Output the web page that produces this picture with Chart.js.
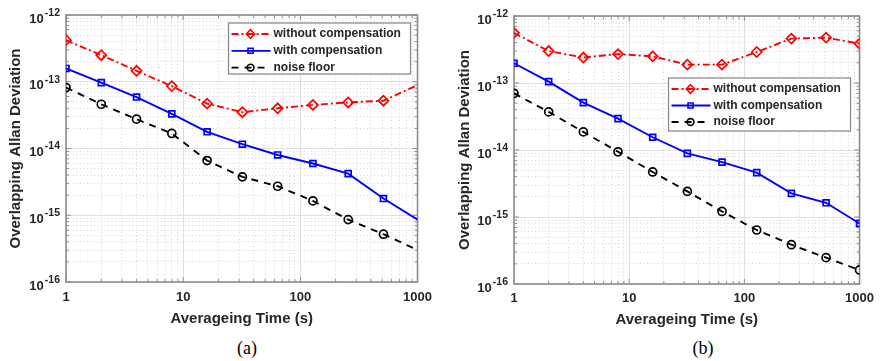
<!DOCTYPE html>
<html>
<head>
<meta charset="utf-8">
<script src="https://cdn.jsdelivr.net/npm/chart.js@4"></script>
<style>
  body { margin: 0; background: #fff; width: 881px; height: 361px; position: relative; overflow: hidden; }
  .panel { position: absolute; top: 0; height: 335px; }
  .cap { position: absolute; top: 338px; font: 18px "Liberation Serif", "Times New Roman", serif; line-height: 20px; color: #000; transform: translateX(-50%); }
</style>
</head>
<body>
<div class="panel" style="left:0;width:440px"><canvas id="chartA"></canvas></div>
<div class="panel" style="left:440px;width:441px"><canvas id="chartB"></canvas></div>
<div class="cap" style="left:247px">(a)</div>
<div class="cap" style="left:703px">(b)</div>
<script>
// Overlapping Allan deviation, with and without compensation, two runs (a) and (b).
// Values.

const TAU = [1, 2, 4, 8, 16, 32, 64, 128, 256, 512, 1000];

const A_WITHOUT = [4.2e-13, 2.5e-13, 1.46e-13, 8.6e-14, 4.7e-14, 3.5e-14, 4.0e-14, 4.5e-14, 4.9e-14, 5.2e-14, 8.9e-14];
const A_WITH    = [1.58e-13, 9.7e-14, 5.9e-14, 3.3e-14, 1.78e-14, 1.16e-14, 8.0e-15, 5.96e-15, 4.2e-15, 1.78e-15, 8.6e-16];
const A_FLOOR   = [8.2e-14, 4.6e-14, 2.75e-14, 1.68e-14, 6.6e-15, 3.76e-15, 2.72e-15, 1.64e-15, 8.6e-16, 5.2e-16, 3.0e-16];

const B_WITHOUT = [5.6e-13, 3.0e-13, 2.4e-13, 2.7e-13, 2.5e-13, 1.88e-13, 1.88e-13, 2.9e-13, 4.6e-13, 4.75e-13, 3.86e-13];
const B_WITH    = [1.97e-13, 1.05e-13, 5.1e-14, 2.94e-14, 1.55e-14, 8.9e-15, 6.6e-15, 4.6e-15, 2.25e-15, 1.63e-15, 8.0e-16];
const B_FLOOR   = [7.0e-14, 3.7e-14, 1.86e-14, 9.4e-15, 4.7e-15, 2.41e-15, 1.21e-15, 6.4e-16, 3.86e-16, 2.47e-16, 1.62e-16];

const LABELS = ["without compensation", "with compensation", "noise floor"];
const X_DECADES = [0, 3];      // 1 .. 1000
const Y_DECADES = [-16, -12];  // 1e-16 .. 1e-12
const X_TITLE = "Averageing Time (s)";
const Y_TITLE = "Overlapping Allan Deviation";

const FONT = '"Liberation Sans", Arial, sans-serif';
const INK = "#262626";
const AXIS = "#8c8c8c";

const STYLES = [
  { color: "#ff0000", dash: [7, 3, 2, 3], point: "rectRot", r: 5 },
  { color: "#0000ff", dash: [], point: "rect", r: 4.2 },
  { color: "#000000", dash: [7, 6], point: "circle", r: 4 },
];

const isMajor = (v) => Math.abs(Math.log10(v) - Math.round(Math.log10(v))) < 1e-6;

// 1..9 per decade, like MATLAB's minor grid
function decadeTicks([lo, hi]) {
  const t = [];
  for (let e = lo; e < hi; e++) for (let k = 1; k < 10; k++) t.push({ value: k * Math.pow(10, e) });
  t.push({ value: Math.pow(10, hi) });
  return t;
}

function drawMarker(ctx, style, x, y, r) {
  ctx.beginPath();
  if (style === "rectRot") {
    ctx.moveTo(x, y - r); ctx.lineTo(x + r, y); ctx.lineTo(x, y + r); ctx.lineTo(x - r, y); ctx.closePath();
  } else if (style === "rect") {
    const s = r * Math.SQRT1_2;
    ctx.rect(x - s, y - s, 2 * s, 2 * s);
  } else {
    ctx.arc(x, y, r, 0, 2 * Math.PI);
  }
  ctx.stroke();
}

// box + inward ticks, under the data (MATLAB Layer = bottom)
const framePlugin = {
  id: "frame",
  beforeDatasetsDraw(chart) {
    const { ctx, chartArea: a, scales: { x, y } } = chart;
    ctx.save();
    ctx.strokeStyle = AXIS;
    ctx.lineWidth = 1;
    ctx.beginPath();
    x.ticks.forEach((t) => {
      const px = x.getPixelForValue(t.value), L = isMajor(t.value) ? 5 : 3;
      ctx.moveTo(px, a.bottom); ctx.lineTo(px, a.bottom - L);
      ctx.moveTo(px, a.top); ctx.lineTo(px, a.top + L);
    });
    y.ticks.forEach((t) => {
      const py = y.getPixelForValue(t.value), L = isMajor(t.value) ? 5 : 3;
      ctx.moveTo(a.left, py); ctx.lineTo(a.left + L, py);
      ctx.moveTo(a.right, py); ctx.lineTo(a.right - L, py);
    });
    ctx.stroke();
    ctx.lineWidth = 1.6;
    ctx.strokeRect(a.left, a.top, a.right - a.left, a.bottom - a.top);
    ctx.restore();
  },
  afterDraw(chart) {
    // y tick labels as 10^n with a raised exponent
    const { ctx, chartArea: a, scales: { y } } = chart;
    ctx.save();
    ctx.fillStyle = INK;
    ctx.textAlign = "right";
    ctx.textBaseline = "middle";
    for (let e = Y_DECADES[0]; e <= Y_DECADES[1]; e++) {
      const py = y.getPixelForValue(Math.pow(10, e));
      const xr = a.left - 6;
      const sup = String(e);
      ctx.font = `bold 10.5px ${FONT}`;
      ctx.fillText(sup, xr, py - 2);
      const w = ctx.measureText(sup).width;
      ctx.font = `bold 13px ${FONT}`;
      ctx.fillText("10", xr - w - 1, py + 4);
    }
    ctx.restore();
  },
};

const legendPlugin = {
  id: "boxLegend",
  afterDraw(chart, args, o) {
    const { ctx, chartArea: a } = chart;
    const bx = a.right - o.right - o.width, by = a.top + o.top;
    ctx.save();
    ctx.fillStyle = "#fff";
    ctx.fillRect(bx, by, o.width, o.height);
    ctx.strokeStyle = AXIS;
    ctx.lineWidth = 1.3;
    ctx.strokeRect(bx, by, o.width, o.height);
    chart.data.datasets.forEach((ds, i) => {
      const st = STYLES[i];
      const ry = by + 11 + i * o.step;
      ctx.strokeStyle = st.color;
      ctx.lineWidth = 1.8;
      ctx.setLineDash(st.dash);
      ctx.beginPath(); ctx.moveTo(bx + 3, ry); ctx.lineTo(bx + 42, ry); ctx.stroke();
      ctx.setLineDash([]);
      ctx.lineWidth = 1.6;
      drawMarker(ctx, st.point, bx + 22, ry, st.r * 0.85);
      ctx.fillStyle = INK;
      ctx.font = `bold 12px ${FONT}`;
      ctx.textAlign = "left";
      ctx.textBaseline = "middle";
      ctx.fillText(ds.label, bx + 45, ry);
    });
    ctx.restore();
  },
};

function makeChart(id, series, cfg) {
  const datasets = series.map((vals, i) => {
    const st = STYLES[i];
    return {
      label: LABELS[i],
      data: TAU.map((x, j) => ({ x, y: vals[j] })),
      borderColor: st.color,
      borderWidth: 1.9,
      borderDash: st.dash,
      pointStyle: st.point,
      pointRadius: TAU.map((x) => (x === 1000 && !cfg.lastMarker ? 0 : st.r)),
      pointBorderWidth: 1.7,
      pointBorderColor: st.color,
      pointBackgroundColor: "rgba(0,0,0,0)",
      tension: 0,
    };
  });

  const gridColor = (c) => (c.tick && isMajor(c.tick.value) ? "#e0e0e0" : "#d8d8d8");
  const gridDash = (c) => (c.tick && !isMajor(c.tick.value) ? [1, 2.5] : []);

  return new Chart(document.getElementById(id), {
    type: "line",
    data: { datasets },
    plugins: [framePlugin, legendPlugin],
    options: {
      responsive: true, maintainAspectRatio: false, animation: false,
      layout: { padding: cfg.pad },
      plugins: { legend: { display: false }, tooltip: { enabled: false }, boxLegend: cfg.legend },
      scales: {
        x: {
          type: "logarithmic", min: 10 ** X_DECADES[0], max: 10 ** X_DECADES[1],
          afterBuildTicks: (s) => { s.ticks = decadeTicks(X_DECADES); },
          afterFit: (s) => { s.height = cfg.xHeight; },
          ticks: {
            autoSkip: false, maxRotation: 0, padding: cfg.xTickPad, color: INK,
            font: { family: FONT, size: 13, weight: "bold" },
            callback: (v) => (isMajor(v) ? String(Math.round(v)) : ""),
          },
          grid: { color: gridColor, lineWidth: 1, drawTicks: false },
          border: { display: false, dash: gridDash },
          title: { display: true, text: X_TITLE, color: INK, padding: { top: 0, bottom: cfg.xTitlePad }, font: { family: FONT, size: 15, weight: "bold" } },
        },
        y: {
          type: "logarithmic", min: 10 ** Y_DECADES[0], max: 10 ** Y_DECADES[1],
          afterBuildTicks: (s) => { s.ticks = decadeTicks(Y_DECADES); },
          afterFit: (s) => { s.width = cfg.yWidth; },
          ticks: { display: false },
          grid: { color: gridColor, lineWidth: 1, drawTicks: false },
          border: { display: false, dash: gridDash },
          title: { display: true, text: Y_TITLE, color: INK, padding: { top: cfg.yTitlePad, bottom: 0 }, font: { family: FONT, size: 15, weight: "bold" } },
        },
      },
    },
  });
}

makeChart("chartA", [A_WITHOUT, A_WITH, A_FLOOR], {
  pad: { left: 0, top: 15, right: 21, bottom: 0 },
  yWidth: 66, xHeight: 53, xTickPad: 8, xTitlePad: 7, yTitlePad: 7,
  lastMarker: false,
  legend: { right: 7, top: 8, width: 182, height: 51, step: 16.8 },
});

makeChart("chartB", [B_WITHOUT, B_WITH, B_FLOOR], {
  pad: { left: 0, top: 16, right: 15, bottom: 0 },
  yWidth: 74, xHeight: 51, xTickPad: 7, xTitlePad: 6, yTitlePad: 16,
  lastMarker: true,
  legend: { right: 9, top: 62, width: 182, height: 53, step: 16.5 },
});
</script>
</body>
</html>
